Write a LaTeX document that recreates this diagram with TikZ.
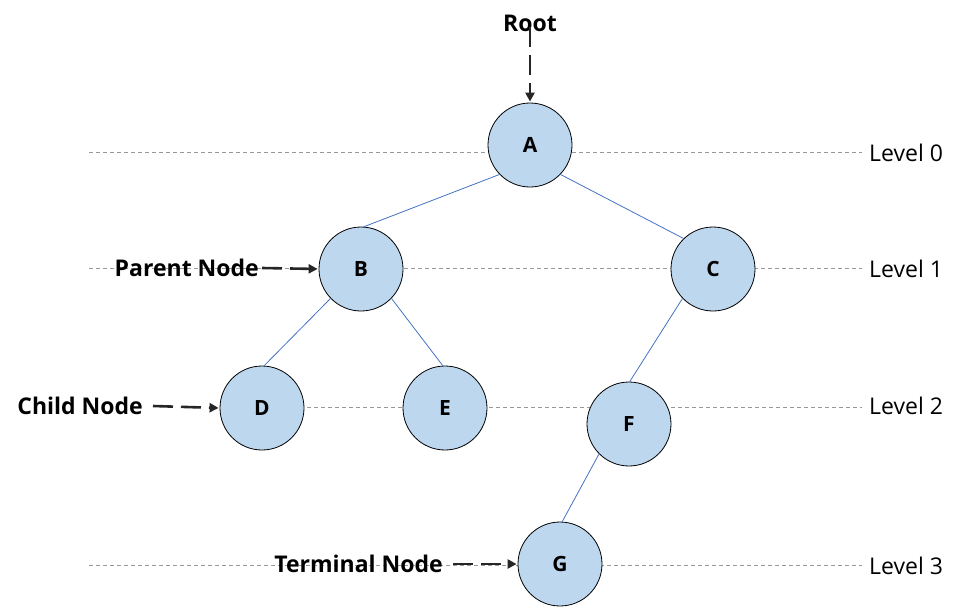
\documentclass[tikz,border=0pt]{standalone}
\usepackage{fontspec}
\setmainfont{Open Sans}
\usetikzlibrary{arrows.meta}
\definecolor{nodefill}{HTML}{BDD7EE}
\definecolor{edgeblue}{HTML}{4472C4}
\definecolor{dark}{HTML}{262626}
\begin{document}
\begin{tikzpicture}[x=1pt,y=-1pt,
  treenode/.style={circle,draw=black,line width=0.8pt,fill=nodefill,minimum size=84pt,inner sep=0pt,font=\fontsize{21}{23}\selectfont\bfseries},
  edge/.style={draw=edgeblue,line width=0.8pt},
  levelline/.style={draw=gray!80,line width=0.8pt,dash pattern=on 4pt off 3pt},
  leveltext/.style={font=\fontsize{23}{25}\selectfont,anchor=west,inner sep=0pt},
  callout/.style={font=\fontsize{23}{25}\selectfont\bfseries,inner sep=0pt},
  pointer/.style={draw=dark,line width=2.6pt,dash pattern=on 20pt off 8pt,-{Triangle[length=9pt,width=9pt]},shorten >=1pt}
]
\useasboundingbox (0,0) rectangle (966,608);
% level lines
\node[leveltext] (lev0) at (869,153) {Level 0};
\node[leveltext] (lev1) at (869,269) {Level 1};
\node[leveltext] (lev2) at (869,406) {Level 2};
\node[leveltext] (lev3) at (869,566) {Level 3};
\coordinate (s0) at (89,152);
\coordinate (s1) at (89,268);
\coordinate (s2) at (300,407);
\coordinate (s3) at (89,565);
\coordinate (e0) at (862,152);
\coordinate (e1) at (862,268);
\coordinate (e2) at (862,407);
\coordinate (e3) at (862,565);
\draw[levelline] (s0) -- (e0);
\draw[levelline] (s1) -- (e1);
\draw[levelline] (s2) -- (e2);
\draw[levelline] (s3) -- (e3);
% nodes
\node[treenode] (A) at (530,145) {A};
\node[treenode] (B) at (361,269) {B};
\node[treenode] (C) at (713,269) {C};
\node[treenode] (D) at (262,408) {D};
\node[treenode] (E) at (445,408) {E};
\node[treenode] (F) at (629,424) {F};
\node[treenode] (G) at (560,564) {G};
% edges
\draw[edge] (A.224) -- (B.86);
\draw[edge] (A.-44) -- (C.134);
\draw[edge] (B.224) -- (D.87);
\draw[edge] (B.-44) -- (E.93);
\draw[edge] (C.224) -- (F.89);
\draw[edge] (F.225) -- (G.87);
% callouts
\node[callout] (root) at (530,23) {Root};
\node[callout,anchor=east] (parent) at (259,268) {Parent Node};
\node[callout,anchor=east] (child) at (143,406) {Child Node};
\node[callout,anchor=east] (term) at (443,564) {Terminal Node};
\draw[pointer] ([yshift=5pt]root.south) -- (A.north);
\draw[pointer] ([xshift=3pt]parent.east) -- (B.west);
\draw[pointer] ([xshift=10pt]child.east) -- (D.west);
\draw[pointer] ([xshift=10pt]term.east) -- (G.west);
\end{tikzpicture}
\end{document}
